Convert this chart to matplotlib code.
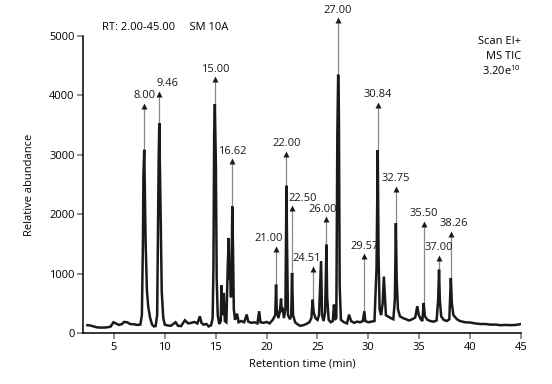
import matplotlib
matplotlib.use("Agg")
import matplotlib.pyplot as plt

plt.rcParams["font.family"] = ["Open Sans", "DejaVu Sans"]
plt.rcParams["mathtext.fontset"] = "custom"
plt.rcParams["mathtext.rm"] = "Open Sans"

# TIC trace (time in min, relative abundance)
rt = [2.4, 2.7, 3.0, 3.3, 3.6, 4.0, 4.4, 4.7, 4.95, 5.2, 5.5, 5.8, 6.0, 6.3, 6.6, 7.0, 7.3, 7.6,
      7.75, 7.85, 7.9, 7.98, 8.05, 8.12, 8.25, 8.37, 8.55, 8.75, 8.93, 9.1, 9.25, 9.33, 9.4, 9.46,
      9.55, 9.62, 9.7, 9.85, 10.0, 10.3, 10.6, 11.06, 11.3, 11.6, 11.97, 12.3, 12.6, 12.9, 13.2,
      13.45, 13.6, 13.8, 14.1, 14.3, 14.55, 14.7, 14.78, 14.85, 14.92, 15.02, 15.1, 15.2, 15.35,
      15.5, 15.57, 15.67, 15.8, 15.9, 16.05, 16.18, 16.28, 16.35, 16.42, 16.5, 16.58, 16.63, 16.7,
      16.78, 16.9, 17.1, 17.25, 17.5, 17.8, 18.05, 18.2, 18.5, 18.8, 19.1, 19.27, 19.4, 19.7, 20.0,
      20.3, 20.6, 20.85, 20.93, 21.0, 21.15, 21.3, 21.42, 21.5, 21.58, 21.7, 21.85, 21.95, 22.03,
      22.1, 22.3, 22.42, 22.5, 22.6, 22.8, 23.0, 23.3, 23.6, 23.9, 24.2, 24.4, 24.53, 24.62, 24.8,
      25.0, 25.15, 25.25, 25.35, 25.45, 25.6, 25.75, 25.88, 25.95, 26.1, 26.3, 26.5, 26.62, 26.7,
      26.85, 26.95, 27.03, 27.1, 27.18, 27.3, 27.6, 27.9, 28.1, 28.3, 28.6, 28.9, 29.2, 29.45,
      29.6, 29.7, 30.0, 30.3, 30.6, 30.8, 30.92, 31.0, 31.1, 31.25, 31.4, 31.52, 31.6, 31.72,
      31.9, 32.2, 32.45, 32.6, 32.7, 32.78, 32.9, 33.1, 33.4, 33.7, 34.0, 34.3, 34.6, 34.8, 34.95,
      35.15, 35.3, 35.43, 35.55, 35.8, 36.1, 36.4, 36.7, 36.85, 36.94, 37.02, 37.15, 37.4, 37.7,
      37.95, 38.03, 38.1, 38.2, 38.35, 38.7, 39.0, 39.5, 40.0, 40.5, 41.0, 41.5, 42.0, 42.5, 43.0,
      43.5, 44.0, 44.5, 45.0]
abund = [130, 125, 110, 95, 90, 90, 95, 110, 180, 160, 135, 150, 185, 180, 150, 145, 135, 140,
         300, 1500, 2650, 3085, 2250, 1500, 700, 450, 260, 140, 110, 115, 300, 1800, 2950, 3535,
         2500, 1740, 700, 250, 140, 125, 120, 180, 120, 115, 213, 160, 170, 185, 160,
         280, 170, 140, 150, 110, 130, 250, 1100, 3340, 3855, 2800, 900, 300, 150,
         200, 800, 300, 673, 200, 180, 1100, 1600, 900, 1000, 600, 1300, 2130, 1430,
         400, 220, 325, 180, 200, 180, 310, 190, 170, 180, 160, 365, 180, 170, 185,
         160, 220, 300, 813, 400, 250, 350, 577, 350, 425, 250, 400, 2480, 1200,
         300, 230, 300, 1010, 300, 180, 150, 120, 130, 150, 180, 250, 560, 350, 250,
         220, 300, 760, 1210, 300, 200, 350, 1487, 600, 220, 180, 200, 477, 220,
         250, 3340, 4350, 3760, 800, 220, 180, 160, 308, 200, 170, 190, 180, 200,
         365, 200, 180, 190, 200, 1100, 3080, 1300, 400, 300, 500, 950, 700, 300,
         280, 250, 230, 560, 1850, 900, 400, 280, 250, 230, 210, 230, 260, 450, 300,
         230, 200, 505, 280, 220, 200, 190, 210, 550, 1065, 550, 280, 220, 200,
         230, 600, 925, 500, 300, 230, 200, 180, 175, 160, 150, 150, 140, 140, 130,
         135, 130, 135, 150]

# labelled peaks: label, position (min), apex height, arrow tip height
peak_labels = ["8.00", "9.46", "15.00", "16.62", "21.00", "22.00", "22.50", "24.51",
               "26.00", "27.00", "29.57", "30.84", "32.75", "35.50", "37.00", "38.26"]
peak_rt = [7.98, 9.46, 14.92, 16.63, 20.93, 21.95, 22.5, 24.53,
           25.88, 27.03, 29.6, 30.92, 32.7, 35.43, 36.94, 38.1]
peak_top = [3085, 3535, 3855, 2130, 813, 2480, 1010, 560,
            1487, 4350, 365, 3080, 1850, 505, 1065, 925]
peak_tip = [3870, 4067, 4310, 2930, 1458, 3057, 2143, 1122,
            1953, 5303, 1330, 3882, 2468, 1880, 1308, 1712]

fig = plt.figure(figsize=(5.52, 3.84), dpi=100)
ax = fig.add_axes([0.151, 0.133, 0.793, 0.773])

ax.plot(rt, abund, color="#1a1a1a", lw=1.8, zorder=3, solid_joinstyle="miter")

# label offsets (points) for the few labels that sit off-centre
dx = {"9.46": 6, "21.00": -5, "22.50": 8, "24.51": -4, "26.00": -3, "38.26": 2}
for lab, t, top, tip in zip(peak_labels, peak_rt, peak_top, peak_tip):
    ax.plot([t, t], [top, tip - 60], color="#888888", lw=0.9, zorder=2, clip_on=False)
    ax.plot([t], [tip - 40], marker="^", ms=4.5, color="#1a1a1a", mec="none",
            zorder=4, clip_on=False)
    ax.annotate(lab, (t, tip), xytext=(dx.get(lab, 0), 5.5), textcoords="offset points",
                ha="center", va="center", fontsize=8, color="#1a1a1a",
                annotation_clip=False)

ax.set_xlim(2, 45)
ax.set_ylim(0, 5000)
ax.set_xticks(range(5, 46, 5))
ax.set_yticks(range(0, 5001, 1000))
for s in ["top", "right"]:
    ax.spines[s].set_visible(False)
for s in ["left", "bottom"]:
    ax.spines[s].set_linewidth(1.1)
ax.tick_params(axis="both", labelsize=8, color="#888888", width=1.3, length=4.2, pad=2)
ax.set_xlabel("Retention time (min)", fontsize=8, labelpad=4)
ax.set_ylabel("Relative abundance", fontsize=8, labelpad=10)

fig.text(0.184, 0.928, "RT: 2.00-45.00     SM 10A", fontsize=8, va="center")
fig.text(0.944, 0.893, "Scan EI+", fontsize=8, ha="right", va="center")
fig.text(0.944, 0.853, "MS TIC", fontsize=8, ha="right", va="center")
fig.text(0.944, 0.815, r"3.20e$^{10}$", fontsize=8, ha="right", va="center")

fig.savefig("out.png", dpi=100)
